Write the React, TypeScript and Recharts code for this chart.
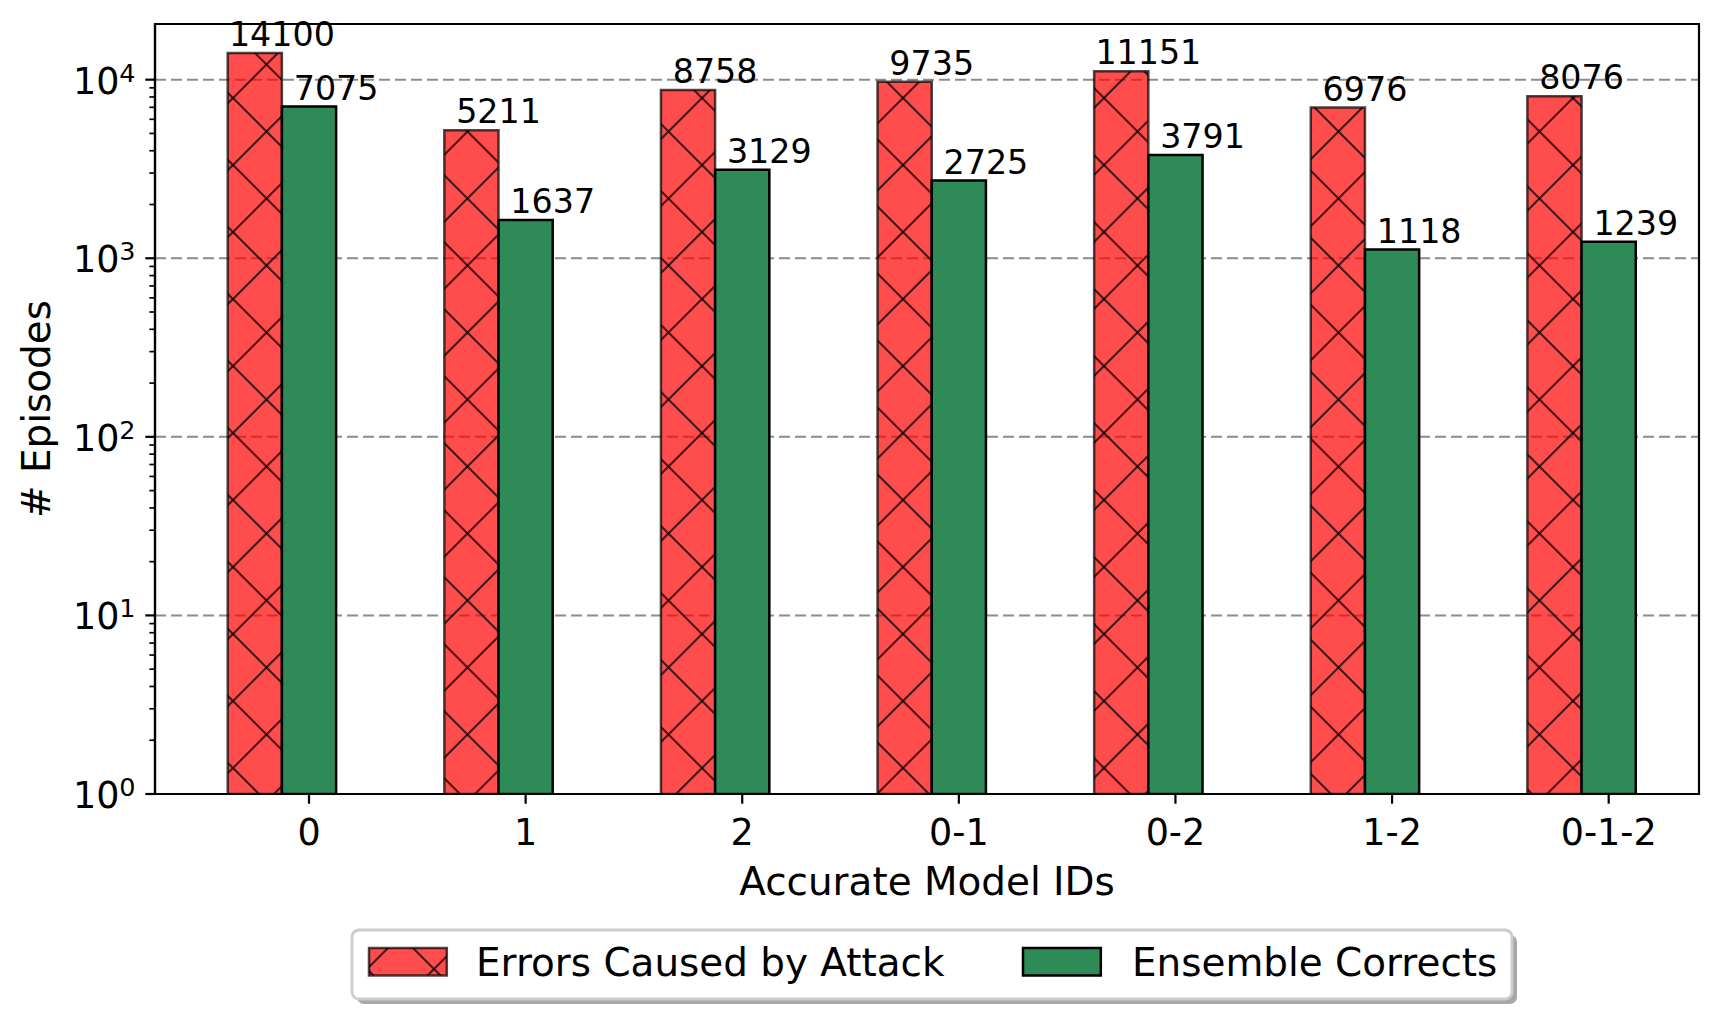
import React from "react";
import {
  BarChart,
  Bar,
  XAxis,
  YAxis,
  CartesianGrid,
  LabelList,
  ReferenceArea,
} from "recharts";

const categories = ["0", "1", "2", "0-1", "0-2", "1-2", "0-1-2"];
const attackErrors = [14100, 5211, 8758, 9735, 11151, 6976, 8076];
const ensembleCorrects = [7075, 1637, 3129, 2725, 3791, 1118, 1239];
const seriesNames = ["Errors Caused by Attack", "Ensemble Corrects"];
const xTicks = [0, 1, 2, 3, 4, 5, 6];
const majorTicks = [1, 10, 100, 1000, 10000];
const minorTicks = [1, 10, 100, 1000].flatMap((d) => [2, 3, 4, 5, 6, 7, 8, 9].map((m) => m * d));
const gridValues = [10, 100, 1000, 10000];

const FONT = "'DejaVu Sans', sans-serif";
const RED_HATCH = "url(#xhatch)";
const GREEN = "#2e8b57";
const X_MIN = -0.711;
const X_MAX = 6.417;
const Y_MAX = 20500;
const BAR_W = 54.2;

const data = categories.map((label, i) => ({
  pos: i,
  label,
  errors: attackErrors[i],
  corrects: ensembleCorrects[i],
  spacer: null,
}));

function LogTick(props: any) {
  const { x, y, payload } = props;
  const v = payload.value;
  if (!majorTicks.includes(v)) {
    return <line x1={x - 5.6} x2={x} y1={y} y2={y} stroke="#000" strokeWidth={1.7} />;
  }
  const exp = Math.round(Math.log10(v));
  return (
    <g>
      <line x1={x - 9.7} x2={x} y1={y} y2={y} stroke="#000" strokeWidth={2.2} />
      <text x={x - 19.4} y={y + 14} textAnchor="end" fontSize={36.5} fontFamily={FONT} fill="#000">
        10
        <tspan dy={-12} fontSize={25.5}>
          {exp}
        </tspan>
      </text>
    </g>
  );
}

function ValueLabel(props: any) {
  const { x, y, width, value } = props;
  if (value == null) return null;
  return (
    <text x={x + width} y={y - 7} textAnchor="middle" fontSize={33.3} fontFamily={FONT} fill="#000">
      {value}
    </text>
  );
}

function HatchDefs() {
  return (
    <defs>
      <pattern id="xhatch" patternUnits="userSpaceOnUse" x={32} y={31} width={67} height={67}>
        <rect x={0} y={0} width={67} height={67} fill="#ff0000" fillOpacity={0.7} />
        <g stroke="#000" strokeOpacity={0.7} strokeWidth={2.2}>
          <line x1={-67} y1={0} x2={67} y2={134} />
          <line x1={0} y1={0} x2={67} y2={67} />
          <line x1={0} y1={-67} x2={134} y2={67} />
          <line x1={0} y1={67} x2={67} y2={0} />
          <line x1={-67} y1={67} x2={67} y2={-67} />
          <line x1={0} y1={134} x2={134} y2={0} />
        </g>
      </pattern>
    </defs>
  );
}

export default function App() {
  return (
    <div style={{ position: "absolute", left: 0, top: 0, width: 1726, height: 1019, background: "#fff" }}>
      <BarChart
        width={1726}
        height={1019}
        data={data}
        barGap={0}
        margin={{ top: 24, right: 27, left: 75, bottom: 125 }}
      >
        <CartesianGrid
          vertical={false}
          horizontalValues={gridValues}
          stroke="#8c8c8c"
          strokeWidth={2}
          strokeDasharray="11 5"
        />
        <XAxis
          dataKey="pos"
          type="number"
          domain={[X_MIN, X_MAX]}
          ticks={xTicks}
          interval={0}
          tickFormatter={(v: number) => categories[v]}
          tickSize={9.7}
          tickMargin={15.7}
          height={100}
          axisLine={{ stroke: "#000", strokeWidth: 2.2 }}
          tickLine={{ stroke: "#000", strokeWidth: 2.2 }}
          tick={{ fill: "#000", fontSize: 36.5, fontFamily: FONT }}
          label={{
            content: (p: any) => (
              <text
                x={p.viewBox.x + p.viewBox.width / 2}
                y={p.viewBox.y + 101}
                textAnchor="middle"
                fontSize={38.9}
                fontFamily={FONT}
                fill="#000"
              >
                Accurate Model IDs
              </text>
            ),
          }}
        />
        <YAxis
          type="number"
          scale="log"
          domain={[1, Y_MAX]}
          allowDataOverflow
          ticks={[...majorTicks, ...minorTicks]}
          interval={0}
          width={80}
          tickSize={0}
          tickMargin={0}
          tickLine={false}
          axisLine={{ stroke: "#000", strokeWidth: 2.2 }}
          tick={<LogTick />}
          label={{
            content: (p: any) => {
              const cy = p.viewBox.y + p.viewBox.height / 2;
              return (
                <text
                  x={50}
                  y={cy}
                  transform={`rotate(-90, 50, ${cy})`}
                  textAnchor="middle"
                  fontSize={38.9}
                  fontFamily={FONT}
                  fill="#000"
                >
                  # Episodes
                </text>
              );
            },
          }}
        />
        <Bar
          dataKey="errors"
          name={seriesNames[0]}
          barSize={BAR_W}
          fill={RED_HATCH}
          stroke="#000"
          strokeOpacity={0.7}
          strokeWidth={2.5}
          isAnimationActive={false}
        >
          <LabelList dataKey="errors" content={<ValueLabel />} />
        </Bar>
        <Bar
          dataKey="corrects"
          name={seriesNames[1]}
          barSize={BAR_W}
          fill={GREEN}
          stroke="#000"
          strokeWidth={2.5}
          isAnimationActive={false}
        >
          <LabelList dataKey="corrects" content={<ValueLabel />} />
        </Bar>
        {/* empty third slot so the tick sits under the green bar */}
        <Bar dataKey="spacer" barSize={BAR_W} fill="none" legendType="none" isAnimationActive={false} />
        <ReferenceArea
          x1={X_MIN}
          x2={X_MAX}
          y1={1}
          y2={Y_MAX}
          fill="none"
          stroke="#000"
          strokeWidth={2.2}
          ifOverflow="visible"
        />
      </BarChart>
      <svg
        width={1726}
        height={1019}
        style={{ position: "absolute", left: 0, top: 0, pointerEvents: "none" }}
      >
        <HatchDefs />
        <rect x={357} y={935} width={1160} height={69} rx={7} fill="#a8a8a8" />
        <rect x={352} y={930} width={1160} height={69} rx={7} fill="#fff" stroke="#cccccc" strokeWidth={2.8} />
        <rect x={369} y={948} width={77.8} height={27.5} fill={RED_HATCH} stroke="#000" strokeOpacity={0.7} strokeWidth={2.5} />
        <text x={476} y={976} fontSize={38.9} fontFamily={FONT} fill="#000">
          {seriesNames[0]}
        </text>
        <rect x={1023} y={948} width={77.8} height={27.5} fill={GREEN} stroke="#000" strokeWidth={2.5} />
        <text x={1132} y={976} fontSize={38.9} fontFamily={FONT} fill="#000">
          {seriesNames[1]}
        </text>
      </svg>
    </div>
  );
}
